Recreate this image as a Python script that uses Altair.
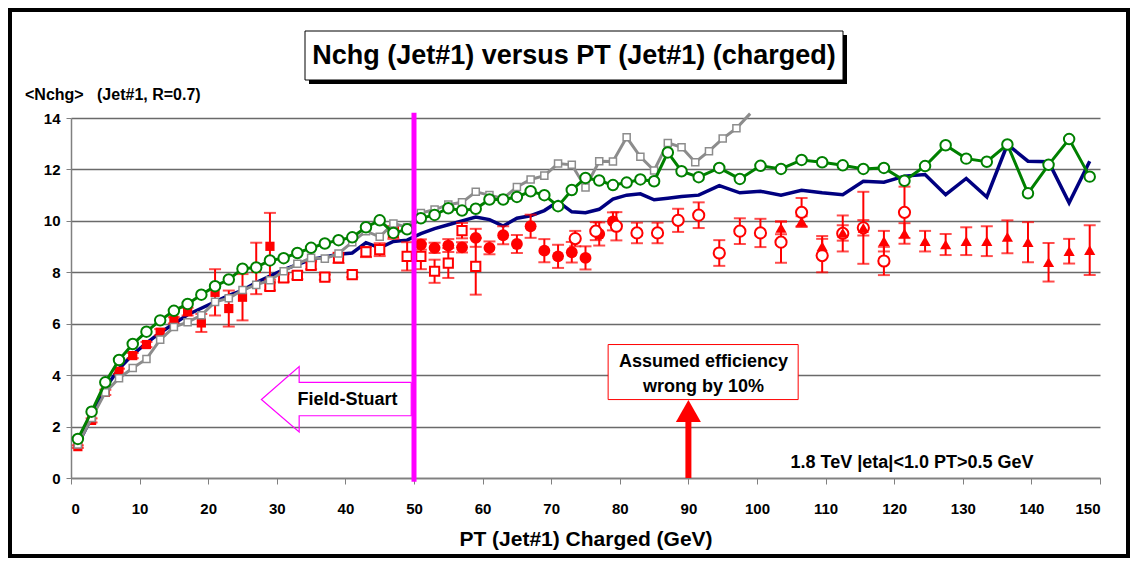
import altair as alt
import pandas as pd

# ---------------- data ----------------
green_x = [1, 3, 5, 7, 9, 11, 13, 15, 17, 19, 21, 23, 25, 27, 29, 31, 33, 35, 37, 39,
           41, 43, 45, 47, 49, 51, 53, 55, 57, 59, 61, 63, 65, 67, 69, 71, 73, 75, 77, 79,
           81, 83, 85, 87, 89, 91.5, 94.5, 97.5, 100.5, 103.5, 106.5, 109.5, 112.5, 115.5,
           118.5, 121.5, 124.5, 127.5, 130.5, 133.5, 136.5, 139.5, 142.5, 145.5, 148.5]
green_y = [1.52, 2.58, 3.72, 4.59, 5.21, 5.69, 6.13, 6.5, 6.77, 7.13,
           7.46, 7.72, 8.14, 8.19, 8.46, 8.55, 8.75, 8.95, 9.12, 9.25,
           9.36, 9.75, 10.02, 9.53, 9.67, 10.1, 10.23, 10.49, 10.4, 10.47,
           10.83, 10.83, 10.93, 11.15, 11.0, 10.57, 11.2, 11.67, 11.57, 11.39,
           11.49, 11.61, 11.54, 12.66, 11.93,
           11.7, 12.06, 11.63, 12.14, 12.02, 12.37, 12.28, 12.16, 12.02, 12.06,
           11.56, 12.13, 12.94, 12.42, 12.3, 12.97, 11.07, 12.18, 13.18, 11.72]

gray_x = [1, 3, 5, 7, 9, 11, 13, 15, 17, 19, 21, 23, 25, 27, 29, 31, 33, 35, 37, 39,
          41, 43, 45, 47, 49, 51, 53, 55, 57, 59, 61, 63, 65, 67, 69, 71, 73, 75, 77, 79,
          81, 83, 85, 87, 89, 91, 93, 95, 97, 99]
gray_y = [1.3, 2.33, 3.33, 3.88, 4.28, 4.63, 5.38, 5.87, 6.06, 6.33,
          6.85, 6.99, 7.31, 7.51, 7.69, 8.04, 8.33, 8.56, 8.53, 8.73,
          9.17, 9.6, 9.38, 9.9, 9.75, 10.3, 10.44, 10.63, 10.72, 11.13,
          11.0, 10.87, 11.32, 11.61, 11.76, 12.23, 12.18, 11.3, 12.32, 12.31,
          13.25, 12.49, 11.96, 13.03, 12.86, 12.28, 12.71, 13.2, 13.6, 14.17]

navy_x = green_x
navy_y = [1.3, 2.35, 3.5, 4.25, 4.8, 5.25, 5.65, 6.0, 6.35, 6.6,
          6.85, 7.1, 7.3, 7.6, 7.85, 8.1, 8.3, 8.5, 8.6, 8.7,
          8.75, 9.15, 8.95, 9.2, 9.25, 9.5, 9.7, 9.85, 10.0, 10.15,
          10.05, 9.8, 10.1, 10.2, 10.4, 10.75, 10.35, 10.32, 10.45, 10.85,
          11.0, 11.05, 10.82, 10.88, 10.95,
          11.0, 11.37, 11.09, 11.15, 11.0, 11.19, 11.09, 11.02, 11.54, 11.5,
          11.74, 11.8, 11.02, 11.65, 10.93, 12.97, 12.32, 12.3, 10.7, 12.32]

fsq_x = [1, 3, 5, 7, 9, 11, 13, 15, 17, 19, 21, 23, 25, 27, 29]
fsq_y = [1.22, 2.24, 3.33, 4.15, 4.76, 5.19, 5.67, 6.13, 6.47, 6.03, 7.22, 6.59, 7.03, 8.15, 9.01]
fsq_e = [0.05, 0.08, 0.1, 0.1, 0.1, 0.1, 0.12, 0.12, 0.15, 0.35, 0.9, 0.7, 0.9, 1.0, 1.3]

osq_x = [29, 31, 33, 35, 37, 39, 41, 43, 45, 47, 49, 51, 53, 55, 57, 59]
osq_y = [7.45, 7.78, 7.88, 8.27, 7.81, 8.56, 7.91, 8.79, 8.88, 9.55, 8.62, 8.62, 8.04, 8.36, 9.62, 8.23]
osq_e = [0.15, 0.15, 0.15, 0.15, 0.1, 0.2, 0.1, 0.2, 0.25, 0.25, 0.55, 0.5, 0.45, 0.58, 0.3, 1.1]

fci_x = [51, 53, 55, 57, 59, 61, 63, 65, 67, 69, 71, 73, 75, 77, 79]
fci_y = [9.08, 8.95, 9.04, 8.97, 9.34, 8.95, 9.44, 9.1, 9.79, 8.84, 8.62, 8.78, 8.56, 9.49, 9.98]
fci_e = [0.2, 0.2, 0.25, 0.2, 0.35, 0.25, 0.35, 0.35, 0.45, 0.45, 0.45, 0.4, 0.45, 0.45, 0.35]

oci_x = [73.5, 76.5, 79.5, 82.5, 85.5, 88.5, 91.5, 94.5, 97.5, 100.5, 103.5, 106.5,
         109.5, 112.5, 115.5, 118.5, 121.5]
oci_y = [9.31, 9.6, 9.79, 9.53, 9.53, 10.02, 10.22, 8.75, 9.6, 9.53, 9.17, 10.33,
         8.65, 9.51, 9.73, 8.44, 10.33]
oci_e = [0.3, 0.35, 0.55, 0.4, 0.4, 0.45, 0.5, 0.5, 0.5, 0.55, 0.8, 0.56,
         0.65, 0.7, 1.4, 0.55, 1.0]

tri_x = [103.5, 106.5, 109.5, 112.5, 115.5, 118.5, 121.5, 124.5, 127.5, 130.5,
         133.5, 136.5, 139.5, 142.5, 145.5, 148.5]
tri_y = [9.73, 9.98, 9.01, 9.53, 9.73, 9.21, 9.51, 9.21, 9.08, 9.21,
         9.21, 9.38, 9.17, 8.39, 8.82, 8.86]
tri_e = [0.25, 0.2, 0.4, 0.3, 0.3, 0.4, 0.4, 0.4, 0.41, 0.54,
         0.58, 0.64, 0.78, 0.75, 0.48, 0.97]

x_ticks = [0, 10, 20, 30, 40, 50, 60, 70, 80, 90, 100, 110, 120, 130, 140, 150]
y_ticks = [0, 2, 4, 6, 8, 10, 12, 14]

# annotation geometry (data units)
fs_arrow_x = [49.6, 33.26, 33.26, 27.75, 33.26, 33.26, 49.6, 49.6]
fs_arrow_y = [3.72, 3.72, 4.33, 3.05, 1.79, 2.42, 2.42, 3.72]
fs_fill_x = [27.75, 33.26, 33.26, 49.6]
fs_fill_lo = [3.05, 1.79, 2.42, 2.42]
fs_fill_hi = [3.05, 4.33, 3.72, 3.72]

FONT = "Liberation Sans"
RED = "#ff0000"
W, H = 1029, 360
NB = "\u00a0"

xs = alt.Scale(domain=[0, 150], nice=False, zero=False)
ys = alt.Scale(domain=[0, 14], nice=False)

XA = alt.Axis(
    values=x_ticks, grid=False, tickSize=6, tickColor="#808080", domainColor="#808080",
    domainWidth=1.5, labelFont=FONT, labelFontWeight="bold", labelFontSize=15,
    labelColor="black", labelPadding=17, title="PT (Jet#1) Charged (GeV)",
    titleFont=FONT, titleFontSize=21, titleFontWeight="bold", titleColor="black",
    titlePadding=12)
YA = alt.Axis(
    values=y_ticks, grid=True, gridColor="#6a6a6a", gridWidth=1.5, tickSize=5,
    tickColor="#808080", domainColor="#808080", domainWidth=1.5, labelFont=FONT,
    labelFontWeight="bold", labelFontSize=15, labelColor="black", labelPadding=6,
    title=None)


def X(field="x"):
    return alt.X(f"{field}:Q", scale=xs, axis=XA)


def Y(field="y"):
    return alt.Y(f"{field}:Q", scale=ys, axis=YA)


def df(x, y, e=None):
    d = pd.DataFrame({"x": x, "y": y, "i": list(range(len(x)))})
    if e is not None:
        d["lo"] = [a - b for a, b in zip(y, e)]
        d["hi"] = [a + b for a, b in zip(y, e)]
    return d


navy = alt.Chart(df(navy_x, navy_y)).mark_line(color="#000080", strokeWidth=3.5).encode(
    x=X(), y=Y(), order="i:Q")


def errbars(x, y, e):
    d = df(x, y, e)
    r = alt.Chart(d).mark_rule(color=RED, strokeWidth=2).encode(x=X(), y=Y("lo"), y2="hi:Q")
    t1 = alt.Chart(d).mark_tick(color=RED, orient="horizontal", size=12, thickness=2).encode(x=X(), y=Y("lo"))
    t2 = alt.Chart(d).mark_tick(color=RED, orient="horizontal", size=12, thickness=2).encode(x=X(), y=Y("hi"))
    return [r, t1, t2]


layers = [navy]
layers += errbars(fsq_x, fsq_y, fsq_e)
layers += errbars(osq_x, osq_y, osq_e)
layers += errbars(fci_x, fci_y, fci_e)
layers += errbars(oci_x, oci_y, oci_e)
layers += errbars(tri_x, tri_y, tri_e)

layers.append(alt.Chart(df(fsq_x, fsq_y)).mark_point(
    shape="square", filled=True, color=RED, opacity=1, size=85).encode(x=X(), y=Y()))
layers.append(alt.Chart(df(osq_x, osq_y)).mark_point(
    shape="square", fill="white", stroke=RED, strokeWidth=2, opacity=1, fillOpacity=1, size=85).encode(x=X(), y=Y()))
layers.append(alt.Chart(df(fci_x, fci_y)).mark_point(
    shape="circle", filled=True, color=RED, opacity=1, size=140).encode(x=X(), y=Y()))
layers.append(alt.Chart(df(oci_x, oci_y)).mark_point(
    shape="circle", fill="white", stroke=RED, strokeWidth=2, opacity=1, fillOpacity=1, size=125).encode(x=X(), y=Y()))
layers.append(alt.Chart(df(tri_x, tri_y)).mark_point(
    shape="triangle-up", filled=True, color=RED, opacity=1, size=125).encode(x=X(), y=Y()))

# gray
layers.append(alt.Chart(df(gray_x, gray_y)).mark_line(color="#8c8c8c", strokeWidth=3).encode(
    x=X(), y=Y(), order="i:Q"))
layers.append(alt.Chart(df(gray_x[:-1], gray_y[:-1])).mark_point(
    shape="square", fill="white", stroke="#8c8c8c", strokeWidth=1.5, opacity=1, fillOpacity=1, size=50).encode(
    x=X(), y=Y()))
# green
layers.append(alt.Chart(df(green_x, green_y)).mark_line(color="#008000", strokeWidth=3).encode(
    x=X(), y=Y(), order="i:Q"))
layers.append(alt.Chart(df(green_x, green_y)).mark_point(
    shape="circle", fill="white", stroke="#008000", strokeWidth=2, opacity=1, fillOpacity=1, size=110).encode(
    x=X(), y=Y()))

# Field-Stuart arrow
fill_df = pd.DataFrame({"x": fs_fill_x, "lo": fs_fill_lo, "hi": fs_fill_hi, "i": list(range(4))})
layers.append(alt.Chart(fill_df).mark_area(color="white", opacity=1).encode(
    x=X(), y=Y("lo"), y2="hi:Q", order="i:Q"))
layers.append(alt.Chart(df(fs_arrow_x, fs_arrow_y)).mark_line(color="#ff00ff", strokeWidth=1.2).encode(
    x=X(), y=Y(), order="i:Q"))
layers.append(alt.Chart(pd.DataFrame({"x": [40.3], "y": [3.05], "t": ["Field-Stuart"]})).mark_text(
    font=FONT, fontWeight="bold", fontSize=18, color="black").encode(x=X(), y=Y(), text="t:N"))

# efficiency box + arrow
layers.append(alt.Chart(pd.DataFrame({"x": [78.3], "x2": [106.0], "y": [3.05], "y2": [5.19]})).mark_rect(
    fill="white", stroke=RED, strokeWidth=1).encode(x=X(), x2="x2:Q", y=Y(), y2="y2:Q"))
layers.append(alt.Chart(pd.DataFrame({"x": [92.2, 92.2], "y": [4.53, 3.55],
                                      "t": ["Assumed efficiency", "wrong by 10%"]})).mark_text(
    font=FONT, fontWeight="bold", fontSize=18, color="black").encode(x=X(), y=Y(), text="t:N"))
layers.append(alt.Chart(pd.DataFrame({"x": [90], "y": [0], "y2": [2.25]})).mark_rule(
    color=RED, strokeWidth=6).encode(x=X(), y=Y(), y2="y2:Q"))
layers.append(alt.Chart(pd.DataFrame({"x": [90], "y": [2.61]})).mark_point(
    shape="M -1 0.88 L 1 0.88 L 0 -0.88 Z", filled=True, color=RED, opacity=1, size=625).encode(
    x=X(), y=Y()))

# energy label
layers.append(alt.Chart(pd.DataFrame({"x": [122.6], "y": [0.6], "t": ["1.8 TeV |eta|<1.0 PT>0.5 GeV"]})).mark_text(
    font=FONT, fontWeight="bold", fontSize=18, color="black").encode(x=X(), y=Y(), text="t:N"))

# pink vertical line
layers.append(alt.Chart(pd.DataFrame({"x": [50], "y": [-0.15], "y2": [14.2]})).mark_rule(
    color="#ff00ff", strokeWidth=5).encode(x=X(), y=Y(), y2="y2:Q"))

one = pd.DataFrame({"a": [0]})
# title box with shadow
layers.append(alt.Chart(one).mark_rect(fill="black").encode(
    x=alt.value(238), x2=alt.value(776), y=alt.value(-83), y2=alt.value(-34)))
layers.append(alt.Chart(one).mark_rect(fill="white", stroke="black", strokeWidth=1).encode(
    x=alt.value(234), x2=alt.value(772), y=alt.value(-87), y2=alt.value(-38)))
layers.append(alt.Chart(pd.DataFrame({"t": ["Nchg (Jet#1) versus PT (Jet#1) (charged)"]})).mark_text(
    font=FONT, fontWeight="bold", fontSize=27, color="black").encode(
    x=alt.value(503), y=alt.value(-62), text="t:N"))
# y title
layers.append(alt.Chart(pd.DataFrame({"t": ["<Nchg>" + NB * 3 + "(Jet#1, R=0.7)"]})).mark_text(
    font=FONT, fontWeight="bold", fontSize=16, color="black", align="left").encode(
    x=alt.value(-46), y=alt.value(-23), text="t:N"))
# outer frame
layers.append(alt.Chart(one).mark_rect(fillOpacity=0, stroke="black", strokeWidth=4).encode(
    x=alt.value(-61), x2=alt.value(1057), y=alt.value(-108), y2=alt.value(438)))

chart = alt.layer(*layers).properties(
    width=W, height=H,
    padding={"left": 63, "top": 110, "right": 30, "bottom": 80},
    autosize=alt.AutoSizeParams(type="none"),
).configure(font=FONT, view=alt.ViewConfig(stroke=None))

chart.save("out.html", embed_options={"renderer": "svg", "actions": False})
